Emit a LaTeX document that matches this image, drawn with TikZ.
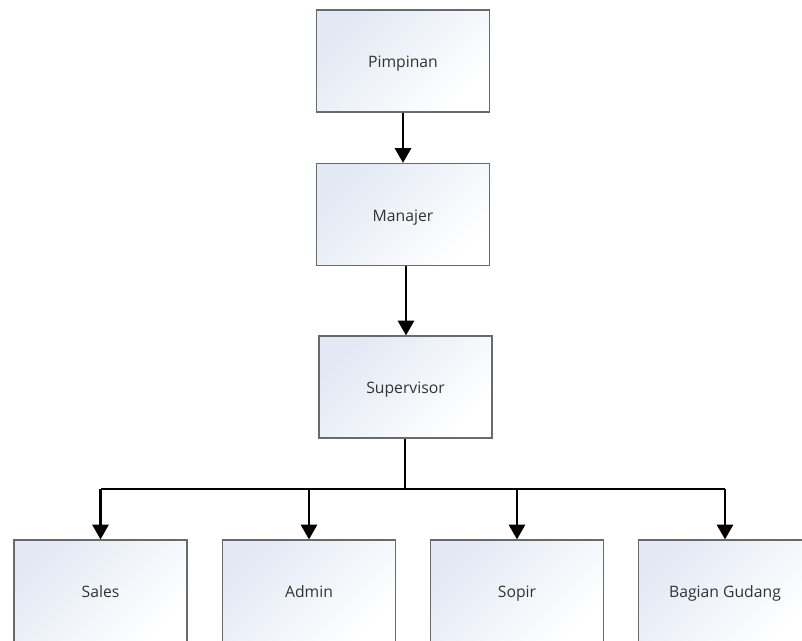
\documentclass[tikz,border=0pt]{standalone}
\usepackage{fontspec}
\setmainfont{Open Sans}
\usetikzlibrary{arrows.meta}
\definecolor{boxblue}{HTML}{E2E9F4}
\definecolor{boxline}{HTML}{6A6A6A}
\tikzset{
  orgbox/.style={draw=boxline, line width=0.9pt, minimum width=129.75pt, minimum height=76.5pt,
    inner sep=0pt, font=\fontsize{11.8}{13}\selectfont, text=black!80,
    text height=2.3ex, text depth=0.45ex,
    top color=boxblue, bottom color=white, shading angle=45},
  link/.style={line width=1.9pt, -{Triangle[width=12pt,length=11pt]}},
  plain/.style={line width=1.9pt}
}
\begin{document}
\begin{tikzpicture}[x=0.75pt,y=-0.75pt]
\useasboundingbox (0,0) rectangle (802,640);
\clip (0,0) rectangle (802,640);
\fill[white] (0,0) rectangle (802,640);
\node[orgbox] (pim) at (403,61) {Pimpinan};
\node[orgbox] (man) at (403,214.5) {Manajer};
\node[orgbox] (sup) at (405.5,387) {Supervisor};
\node[orgbox] (sal) at (100.5,591) {Sales};
\node[orgbox] (adm) at (309,591) {Admin};
\node[orgbox] (sop) at (517,591) {Sopir};
\node[orgbox] (gud) at (725,591) {Bagian Gudang};
\coordinate (j) at (405,489);
\draw[link] (pim) -- (man);
\draw[link] (man.south -| 406,0) -- (sup.north -| 406,0);
\draw[plain] (sup.south -| j) -- (j);
\draw[plain] (sal.north |- j) -- (gud.north |- j);
\draw[link] (sal.north |- j) -- (sal.north);
\draw[link] (adm.north |- j) -- (adm.north);
\draw[link] (sop.north |- j) -- (sop.north);
\draw[link] (gud.north |- j) -- (gud.north);
\end{tikzpicture}
\end{document}
